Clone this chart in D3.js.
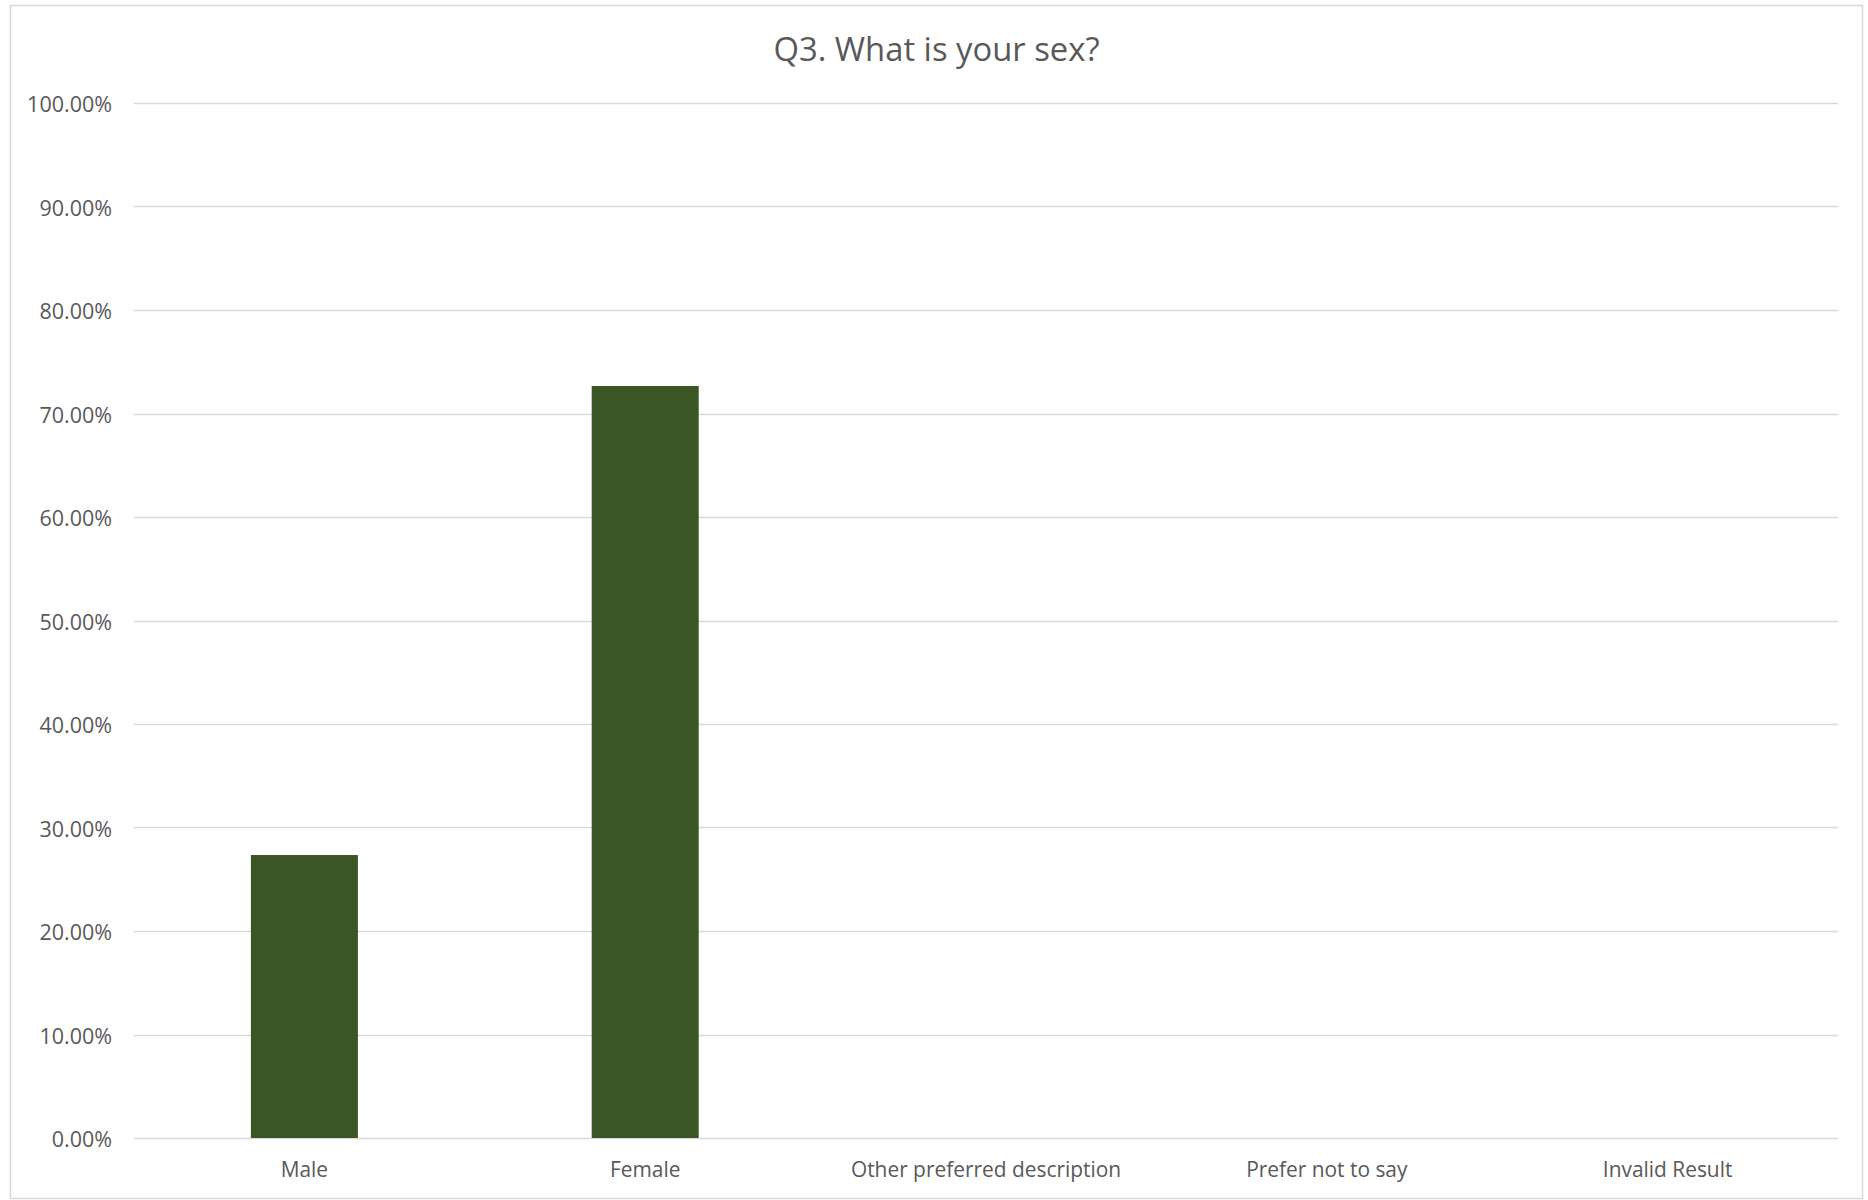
<!DOCTYPE html>
<html>
<head>
<meta charset="utf-8">
<script src="https://cdn.jsdelivr.net/npm/d3@7"></script>
<style>
  html, body { margin: 0; padding: 0; background: #fff; }
  svg { display: block; }
</style>
</head>
<body>
<script>
const title = "Q3. What is your sex?";
const categories = ["Male", "Female", "Other preferred description", "Prefer not to say", "Invalid Result"];
const values = [0.2734, 0.7266, 0, 0, 0];
const yTicks = [0, 0.1, 0.2, 0.3, 0.4, 0.5, 0.6, 0.7, 0.8, 0.9, 1.0];

const W = 1868, H = 1200;
const plot = { left: 134, right: 1838, top: 103, bottom: 1138 };
const font = "'Open Sans', 'Noto Sans', sans-serif";
const textColor = "#595959";

const svg = d3.select("body").append("svg").attr("width", W).attr("height", H);

svg.append("rect")
  .attr("x", 10.5).attr("y", 5.5).attr("width", 1852).attr("height", 1193)
  .attr("fill", "#fff").attr("stroke", "#d9d9d9").attr("stroke-width", 1.5);

const x = d3.scaleBand().domain(categories).range([plot.left, plot.right])
  .paddingInner(0.686).paddingOuter(0.343);
const y = d3.scaleLinear().domain([0, 1]).range([plot.bottom, plot.top]);

// gridlines
svg.append("g").selectAll("line").data(yTicks).join("line")
  .attr("x1", plot.left).attr("x2", plot.right)
  .attr("y1", d => Math.round(y(d)) + 0.5).attr("y2", d => Math.round(y(d)) + 0.5)
  .attr("stroke", "#d9d9d9").attr("stroke-width", 1.5);

// y axis labels
const yAxis = d3.axisLeft(y).tickValues(yTicks).tickFormat(d3.format(".2%")).tickSize(0).tickPadding(22);
const gy = svg.append("g").attr("transform", `translate(${plot.left},0)`).call(yAxis);
gy.select(".domain").remove();
gy.selectAll("text").attr("fill", textColor).attr("y", 2)
  .style("font-family", font).style("font-size", "21.5px");

// bars
svg.append("g").selectAll("rect").data(categories).join("rect")
  .attr("x", d => x(d)).attr("width", x.bandwidth())
  .attr("y", (d, i) => y(values[i])).attr("height", (d, i) => y(0) - y(values[i]))
  .attr("fill", "#3a5624");

// x axis labels
const xAxis = d3.axisBottom(x).tickSize(0).tickPadding(0);
const gx = svg.append("g").attr("transform", `translate(0,${plot.bottom})`).call(xAxis);
gx.select(".domain").remove();
gx.selectAll("text").attr("fill", textColor).attr("dy", null).attr("y", 39)
  .style("font-family", font).style("font-size", "20.9px");

// title
svg.append("text").attr("x", 936.5).attr("y", 61).attr("text-anchor", "middle")
  .attr("fill", textColor).style("font-family", font).style("font-size", "32.8px")
  .text(title);
</script>
</body>
</html>
